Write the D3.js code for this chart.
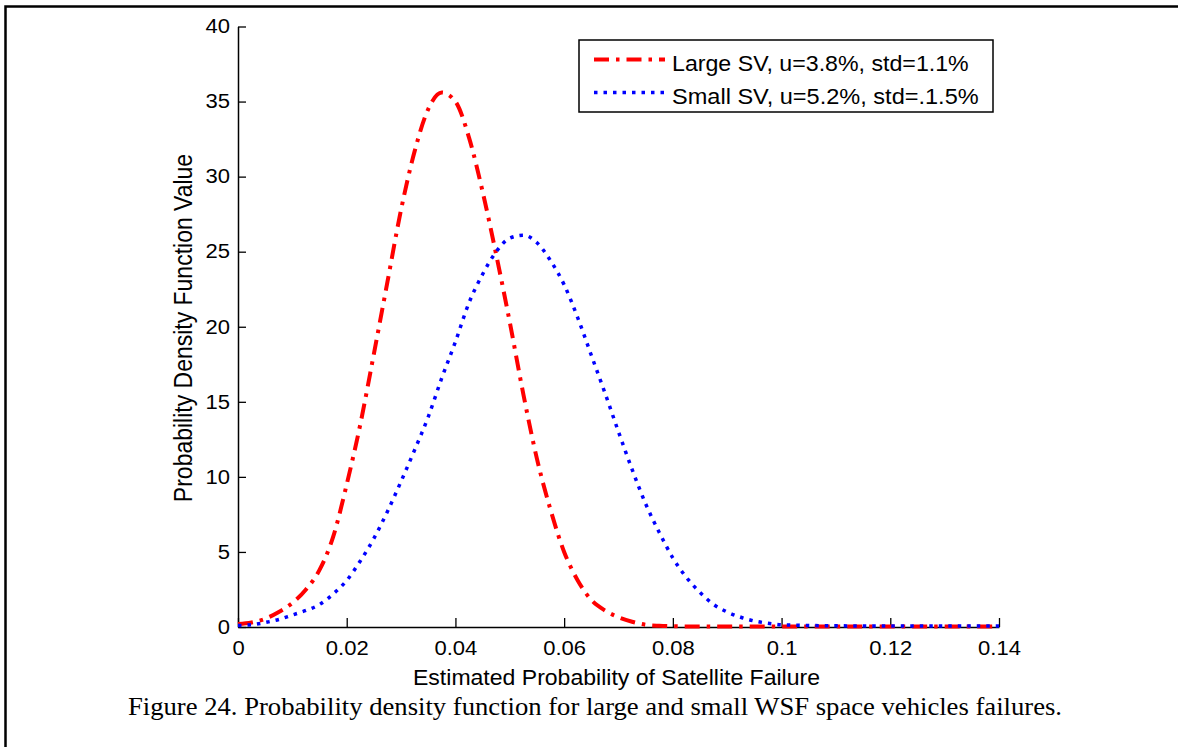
<!DOCTYPE html>
<html><head><meta charset="utf-8">
<script src="https://cdn.jsdelivr.net/npm/d3@7"></script>
<style>body{margin:0;background:#fff}svg{display:block}</style>
</head><body>
<svg id="c" width="1178" height="747"></svg>
<script>
const xValues=[0,0.0025,0.005,0.0075,0.01,0.0125,0.015,0.0175,0.02,0.0225,0.025,0.0275,0.03,0.0325,0.035,0.0375,0.04,0.0425,0.045,0.0475,0.05,0.0525,0.055,0.0575,0.06,0.0625,0.065,0.0675,0.07,0.0725,0.075,0.0775,0.08,0.0825,0.085,0.0875,0.09,0.0925,0.095,0.0975,0.1,0.105,0.11,0.115,0.12,0.125,0.13,0.135,0.14];
const largeSV=[0.2,0.3,0.55,1.0,1.6,2.5,3.8,6.0,9.5,13.5,18.2,23.0,27.8,31.7,34.5,35.6,35.0,32.6,29.0,24.8,20.3,15.5,11.2,7.8,5.0,3.1,1.8,1.1,0.65,0.35,0.15,0.08,0.05,0.04,0.04,0.03,0.03,0.03,0.03,0.03,0.03,0.03,0.03,0.03,0.03,0.03,0.03,0.03,0.03];
const smallSV=[0.1,0.15,0.3,0.5,0.8,1.1,1.5,2.2,3.1,4.4,5.9,7.7,9.7,11.8,14.0,16.6,19.0,21.6,23.5,25.0,25.9,26.1,25.6,24.4,22.8,20.6,18.1,15.6,13.0,10.5,8.2,6.3,4.6,3.3,2.3,1.5,1.0,0.65,0.4,0.25,0.15,0.1,0.08,0.07,0.07,0.07,0.07,0.07,0.07];
const xTicks=[0,0.02,0.04,0.06,0.08,0.1,0.12,0.14];
const xTickLabels=["0","0.02","0.04","0.06","0.08","0.1","0.12","0.14"];
const yTicks=[0,5,10,15,20,25,30,35,40];
const yTickLabels=["0","5","10","15","20","25","30","35","40"];
const seriesNames=["Large SV, u=3.8%, std=1.1%","Small SV, u=5.2%, std=.1.5%"];
const seriesColors=["#ff0000","#0000ff"];
const xLabel="Estimated Probability of Satellite Failure";
const yLabel="Probability Density Function Value";
const caption="Figure 24. Probability density function for large and small WSF space vehicles failures.";

const SANS="'Liberation Sans', Arial, Helvetica, sans-serif";
const SERIF="'Liberation Serif', 'Times New Roman', serif";
const SX=1.13;

const svg=d3.select("#c");
svg.append("rect").attr("x",5.5).attr("y",6.5).attr("width",1300).attr("height",900)
  .attr("fill","none").attr("stroke","#000").attr("stroke-width",2.5);

const x=d3.scaleLinear().domain([0,0.14]).range([238,999]);
const y=d3.scaleLinear().domain([0,40]).range([627,26.5]);

function styleTicks(g){
  g.attr("font-family",SANS).attr("font-size",19.5);
  g.select(".domain").attr("stroke","#000").attr("stroke-width",1.5);
  g.selectAll(".tick line").attr("stroke","#000").attr("stroke-width",1.3);
  g.selectAll(".tick text").attr("fill","#000").each(function(){
    const t=d3.select(this);
    const tx=+t.attr("x")||0, ty=+t.attr("y")||0;
    t.attr("x",0).attr("y",0).attr("transform",`translate(${tx},${ty}) scale(${SX},1)`);
  });
}

const gx=svg.append("g").attr("transform","translate(0,627)")
  .call(d3.axisBottom(x).tickValues(xTicks).tickFormat((d,i)=>xTickLabels[i])
    .tickSizeInner(-9).tickSizeOuter(0).tickPadding(14.5));
styleTicks(gx);
const gy=svg.append("g").attr("transform","translate(238,0)")
  .call(d3.axisLeft(y).tickValues(yTicks).tickFormat((d,i)=>yTickLabels[i])
    .tickSizeInner(-8).tickSizeOuter(0).tickPadding(8));
styleTicks(gy);

const dashes=["15,7,3.5,7","3.5,6"];
const widths=[4,3.5];
const series=[largeSV,smallSV];
series.forEach((vals,k)=>{
  const line=d3.line().x((d,i)=>x(xValues[i])).y(d=>y(d)).curve(d3.curveMonotoneX);
  svg.append("path").datum(vals).attr("d",line).attr("fill","none")
    .attr("stroke",seriesColors[k]).attr("stroke-width",widths[k])
    .attr("stroke-dasharray",dashes[k]);
});

// legend
const lg=svg.append("g");
lg.append("rect").attr("x",579).attr("y",40).attr("width",414).attr("height",72)
  .attr("fill","#fff").attr("stroke","#000").attr("stroke-width",1.5);
const rowY=[59.5,92.5], textY=[70.5,103.5], textLen=[296.7,306.7];
seriesNames.forEach((n,k)=>{
  lg.append("line").attr("x1",594).attr("x2",665).attr("y1",rowY[k]).attr("y2",rowY[k])
    .attr("stroke",seriesColors[k]).attr("stroke-width",widths[k]).attr("stroke-dasharray",dashes[k]);
  lg.append("text").attr("x",672).attr("y",textY[k]).attr("font-family",SANS).attr("font-size",21.5)
    .attr("textLength",textLen[k]).attr("lengthAdjust","spacingAndGlyphs").text(n);
});

// axis labels
svg.append("text").attr("x",413).attr("y",685).attr("font-family",SANS).attr("font-size",21.5)
  .attr("textLength",407).attr("lengthAdjust","spacingAndGlyphs").text(xLabel);
svg.append("text").attr("transform","translate(192,328) rotate(-90) scale(1,1.1)")
  .attr("text-anchor","middle").attr("font-family",SANS).attr("font-size",23).text(yLabel);

// caption
svg.append("text").attr("x",128).attr("y",715).attr("font-family",SERIF).attr("font-size",25.5)
  .attr("textLength",934).attr("lengthAdjust","spacingAndGlyphs").text(caption);
</script>
</body></html>
